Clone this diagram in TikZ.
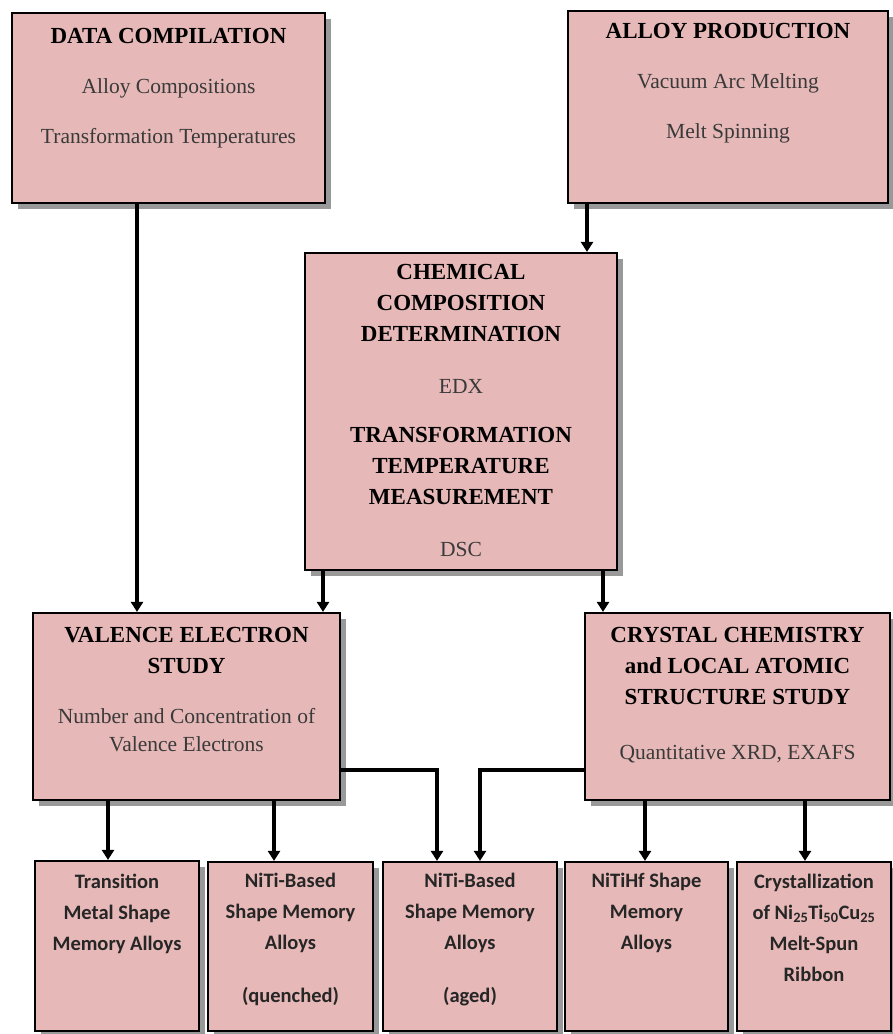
\documentclass[tikz,border=0pt]{standalone}
\usepackage{fontspec}
\setmainfont{Liberation Serif}
\newfontfamily\calibfont{Carlito}
\usetikzlibrary{arrows.meta, positioning, shadows}
\definecolor{boxPink}{HTML}{E6B8B7}
\definecolor{bodyGrey}{HTML}{3A3A3A}
\newcommand{\boxhead}[1]{\textcolor{black}{\fontsize{23}{31}\selectfont\bfseries #1}}

\begin{document}
\begin{tikzpicture}[x=1pt, y=-1pt, >={Triangle[width=12pt,length=10pt]},
  box/.style={draw=black, line width=2.2pt, fill=boxPink, inner sep=0pt,
    drop shadow={shadow xshift=6pt, shadow yshift=-6pt, fill=black!40, opacity=1}},
  txt/.style={align=center, inner sep=0pt, text=bodyGrey, font=\fontsize{21.5}{31}\selectfont},
  leaftxt/.style={align=center, inner sep=0pt, text=black!85, font=\calibfont\bfseries\fontsize{20.5}{31}\selectfont},
  arr/.style={->, line width=3.2pt}]
  \useasboundingbox (0,0) rectangle (893,1034);

  % Top row
  \node[box, minimum width=313pt, minimum height=190pt] (datac) at (168.5,108) {};
  \node[box, minimum width=320pt, minimum height=192pt] (alloyp) at (728,107) {};
  \node[txt, below=16pt of datac.north] (datactxt) {\boxhead{DATA COMPILATION}\\[19pt] Alloy Compositions\\[19pt] Transformation Temperatures};
  \node[txt, below=13pt of alloyp.north] (alloyptxt) {\boxhead{ALLOY PRODUCTION}\\[19pt] Vacuum Arc Melting\\[19pt] Melt Spinning};

  % Middle
  \node[box, minimum width=312pt, minimum height=317pt] (chem) at (461,411.5) {};
  \node[txt, below=12pt of chem.north] (chemtxt) {\boxhead{CHEMICAL}\\ \boxhead{COMPOSITION}\\ \boxhead{DETERMINATION}\\[21pt]
    EDX\\[18pt] \boxhead{TRANSFORMATION}\\ \boxhead{TEMPERATURE}\\ \boxhead{MEASUREMENT}\\[21pt] DSC};

  \node[box, minimum width=307pt, minimum height=187pt] (valence) at (186.5,706.5) {};
  \node[box, minimum width=305pt, minimum height=187pt] (crystal) at (737.5,706.5) {};
  \node[txt, below=15pt of valence.north] (valencetxt) {\boxhead{VALENCE ELECTRON}\\ \boxhead{STUDY}\\[19pt]
    Number and Concentration of\\[-3pt] Valence Electrons};
  \node[txt, below=15pt of crystal.north] (crystaltxt) {\boxhead{CRYSTAL CHEMISTRY}\\ \boxhead{and LOCAL ATOMIC}\\ \boxhead{STRUCTURE STUDY}\\[24pt]
    Quantitative XRD, EXAFS};

  % Bottom row
  \node[box, minimum width=164pt, minimum height=170pt] (tmsma) at (117,946) {};
  \node[box, minimum width=165pt, minimum height=169pt] (nitiq) at (290.5,946.5) {};
  \node[box, minimum width=174pt, minimum height=169pt] (nitia) at (470,946.5) {};
  \node[box, minimum width=163pt, minimum height=169pt] (nitihf) at (646.5,946.5) {};
  \node[box, minimum width=154pt, minimum height=169pt] (ribbon) at (814,946.5) {};
  \node[leaftxt, below=14pt of tmsma.north] (tmsmatxt) {Transition\\ Metal Shape\\ Memory Alloys};
  \node[leaftxt, below=12pt of nitiq.north] (nitiqtxt) {NiTi-Based\\ Shape Memory\\ Alloys\\[22pt] (quenched)};
  \node[leaftxt, below=12pt of nitia.north] (nitiatxt) {NiTi-Based\\ Shape Memory\\ Alloys\\[22pt] (aged)};
  \node[leaftxt, below=12pt of nitihf.north] (nitihftxt) {NiTiHf Shape\\ Memory\\ Alloys};
  \node[leaftxt, below=13pt of ribbon.north] (ribbontxt) {Crystallization\\ of Ni\textsubscript{25}Ti\textsubscript{50}Cu\textsubscript{25}\\ Melt-Spun\\ Ribbon};

  % Connectors
  \draw[arr] (datac.south -| 137,0) -- (valence.north -| 137,0);
  \draw[arr] (alloyp.south -| 587,0) -- (chem.north -| 587,0);
  \draw[arr] (chem.south -| 323,0) -- (valence.north -| 323,0);
  \draw[arr] (chem.south -| 603,0) -- (crystal.north -| 603,0);
  \draw[arr] (valence.south -| 108,0) -- (tmsma.north -| 108,0);
  \draw[arr] (valence.south -| 274,0) -- (nitiq.north -| 274,0);
  \draw[arr] (valence.east |- 0,770) -| (nitia.north -| 437,0);
  \draw[arr] (crystal.west |- 0,770) -| (nitia.north -| 480,0);
  \draw[arr] (crystal.south -| 645,0) -- (nitihf.north -| 645,0);
  \draw[arr] (crystal.south -| 805,0) -- (ribbon.north -| 805,0);
\end{tikzpicture}
\end{document}
